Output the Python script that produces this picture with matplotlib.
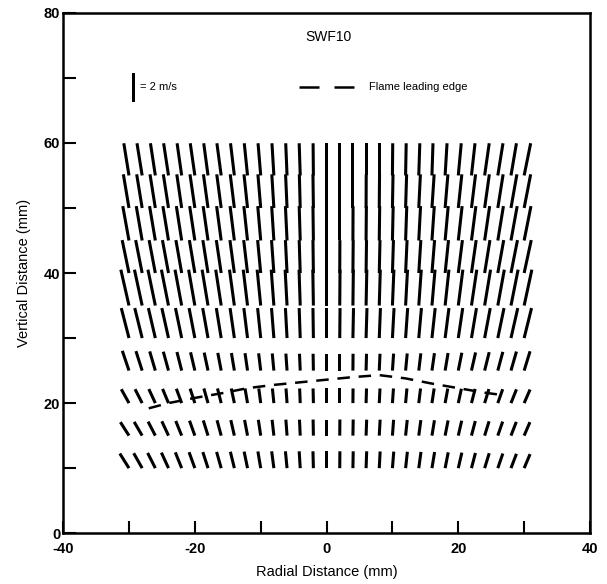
import numpy as np
import matplotlib
matplotlib.use("Agg")
import matplotlib.pyplot as plt

plt.rcParams['font.family'] = ['Liberation Sans', 'DejaVu Sans']
plt.rcParams['axes.unicode_minus'] = False

# measurement grid (mm)
x_cols = np.arange(-30, 31, 2)
y_rows = [10, 15, 20, 25, 30, 35, 40, 45, 50, 55]

# radial velocity (m/s), one list per row, x = -30 ... 30
u10 = [-0.62,-0.57,-0.52,-0.48,-0.43,-0.39,-0.35,-0.31,-0.27,-0.23,-0.19,-0.15,-0.11,-0.07,-0.03,0.0,0.01,0.02,0.04,0.06,0.09,0.12,0.15,0.18,0.21,0.24,0.27,0.31,0.34,0.37,0.40]
u15 = [-0.58,-0.54,-0.49,-0.45,-0.40,-0.36,-0.32,-0.28,-0.24,-0.20,-0.16,-0.12,-0.08,-0.05,-0.02,0.0,0.01,0.02,0.04,0.06,0.08,0.11,0.14,0.17,0.20,0.23,0.26,0.30,0.33,0.36,0.39]
u20 = [-0.52,-0.48,-0.44,-0.40,-0.36,-0.32,-0.28,-0.25,-0.21,-0.17,-0.13,-0.10,-0.07,-0.04,-0.02,0.0,0.0,0.01,0.03,0.05,0.07,0.09,0.12,0.15,0.18,0.21,0.25,0.29,0.33,0.37,0.40]
u25 = [-0.45,-0.42,-0.38,-0.35,-0.32,-0.29,-0.26,-0.23,-0.20,-0.17,-0.14,-0.11,-0.08,-0.05,-0.02,0.0,0.0,0.01,0.03,0.05,0.08,0.11,0.14,0.17,0.20,0.24,0.28,0.31,0.34,0.37,0.40]
u30 = [-0.52,-0.50,-0.47,-0.45,-0.42,-0.39,-0.36,-0.33,-0.29,-0.25,-0.21,-0.16,-0.11,-0.07,-0.03,0.0,0.02,0.04,0.06,0.08,0.11,0.14,0.18,0.22,0.26,0.30,0.34,0.38,0.42,0.46,0.50]
u35 = [-0.55,-0.52,-0.50,-0.48,-0.45,-0.42,-0.40,-0.37,-0.33,-0.29,-0.24,-0.18,-0.13,-0.08,-0.04,0.0,0.02,0.03,0.05,0.07,0.10,0.13,0.17,0.21,0.26,0.31,0.36,0.40,0.44,0.48,0.52]
u40 = [-0.46,-0.44,-0.42,-0.41,-0.39,-0.37,-0.35,-0.33,-0.30,-0.26,-0.21,-0.16,-0.11,-0.07,-0.03,0.0,0.01,0.02,0.03,0.05,0.07,0.10,0.14,0.18,0.23,0.28,0.32,0.36,0.40,0.44,0.48]
u45 = [-0.42,-0.40,-0.39,-0.38,-0.36,-0.35,-0.33,-0.31,-0.29,-0.25,-0.20,-0.15,-0.11,-0.07,-0.03,0.0,0.0,0.01,0.02,0.03,0.05,0.08,0.12,0.16,0.21,0.26,0.30,0.34,0.38,0.42,0.46]
u50 = [-0.38,-0.37,-0.36,-0.35,-0.33,-0.33,-0.31,-0.30,-0.28,-0.24,-0.19,-0.14,-0.10,-0.06,-0.03,0.0,0.0,0.0,0.01,0.02,0.04,0.07,0.11,0.15,0.19,0.24,0.28,0.32,0.36,0.40,0.44]
u55 = [-0.35,-0.35,-0.33,-0.33,-0.31,-0.31,-0.29,-0.29,-0.26,-0.22,-0.18,-0.13,-0.09,-0.07,-0.02,0.0,0.0,0.0,0.0,0.0,0.02,0.04,0.07,0.07,0.13,0.20,0.24,0.31,0.35,0.37,0.44]

# axial velocity (m/s)
v10 = [1.0,1.02,1.04,1.06,1.08,1.09,1.1,1.11,1.12,1.13,1.14,1.15,1.15,1.15,1.15,1.15,1.15,1.15,1.15,1.14,1.13,1.12,1.11,1.1,1.08,1.06,1.04,1.02,1.0,0.98,0.96]
v15 = [0.92,0.94,0.96,0.98,1.0,1.02,1.04,1.05,1.06,1.07,1.08,1.08,1.09,1.09,1.1,1.1,1.1,1.1,1.09,1.09,1.08,1.07,1.06,1.05,1.04,1.02,1.0,0.98,0.96,0.94,0.92]
v20 = [0.95,0.95,0.96,0.97,0.98,0.99,1.0,1.0,1.0,1.0,1.0,1.0,1.0,1.0,1.0,1.0,1.0,1.0,1.0,1.0,1.0,1.0,1.0,1.0,0.99,0.98,0.97,0.96,0.95,0.94,0.93]
v25 = [1.35,1.33,1.31,1.29,1.27,1.25,1.23,1.21,1.2,1.19,1.18,1.17,1.16,1.15,1.15,1.15,1.15,1.15,1.15,1.15,1.16,1.17,1.18,1.19,1.2,1.22,1.24,1.26,1.28,1.3,1.32]
v30 = [2.05] * 31
v35 = [2.45] * 31
v40 = [2.25] * 31
v45 = [2.35] * 31
v50 = [2.3] * 31
v55 = [2.2] * 31

# flame leading edge (mm)
flame_x = [-27, -24, -20, -16, -12, -8, -4, 0, 4, 8, 12, 16, 20, 24, 27]
flame_y = [19.2, 20.0, 20.8, 21.5, 22.3, 22.8, 23.2, 23.6, 24.0, 24.3, 23.8, 23.0, 22.3, 21.6, 21.2]

key_speed = 2.0  # m/s

U = np.array([u10, u15, u20, u25, u30, u35, u40, u45, u50, u55])
V = np.array([v10, v15, v20, v25, v30, v35, v40, v45, v50, v55])
X, Y = np.meshgrid(x_cols, y_rows)

mm_per_ms = 2.25
fig = plt.figure(figsize=(6.07, 5.84), dpi=100)
ax = fig.add_axes([0.104, 0.087, 0.868, 0.891])

qkw = dict(angles='xy', scale_units='xy', scale=1 / mm_per_ms, pivot='tail',
           headwidth=0, headlength=0, headaxislength=0, width=0.0058, color='black')
ax.quiver(X, Y, U, V, **qkw)

ax.plot(flame_x, flame_y, color='black', lw=1.8, dashes=(5, 3.5))

# key
ax.quiver([-29.3], [66.3], [0], [key_speed], **qkw)
ax.text(-28.4, 68.6, '= 2 m/s', fontsize=8, va='center', ha='left')
ax.plot([-4.2, 4.2], [68.6, 68.6], color='black', lw=1.8, dashes=(8, 6))
ax.text(6.4, 68.6, 'Flame leading edge', fontsize=8, va='center', ha='left')
ax.text(0.3, 76.3, 'SWF10', fontsize=10, ha='center', va='center')

ax.set_xlim(-40, 40)
ax.set_ylim(0, 80)
ax.set_xticks([-40, -20, 0, 20, 40])
ax.set_yticks([0, 20, 40, 60, 80])
ax.set_xticks([-30, -10, 10, 30], minor=True)
ax.set_yticks([10, 30, 50, 70], minor=True)
ax.tick_params(which='both', direction='in', length=9, width=1.5)
ax.tick_params(which='major', labelsize=10.5)
ax.tick_params(axis='x', which='major', pad=6)
ax.tick_params(axis='y', which='major', pad=2)
ax.tick_params(axis='x', which='both', top=False)
ax.tick_params(axis='y', which='both', right=False)
for lab in ax.get_xticklabels() + ax.get_yticklabels():
    lab.set_fontweight('bold')
for s in ax.spines.values():
    s.set_linewidth(1.8)

ax.set_xlabel('Radial Distance (mm)', fontsize=10.5, labelpad=7)
ax.set_ylabel('Vertical Distance (mm)', fontsize=10.5, labelpad=9)

fig.savefig('out.png', dpi=100)
